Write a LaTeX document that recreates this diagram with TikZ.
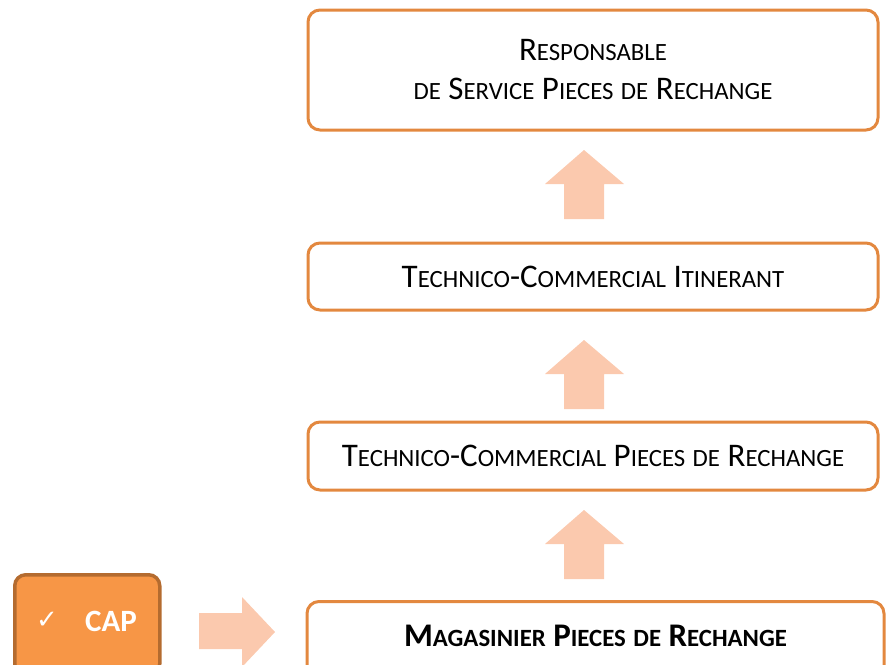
\documentclass[tikz,border=0pt]{standalone}
\usepackage{fontspec}
\setmainfont{Carlito}
\newfontfamily\symfont{DejaVu Sans}
\definecolor{boxline}{HTML}{E3883F}
\definecolor{arrowfill}{HTML}{FBC9AE}
\definecolor{capfill}{HTML}{F79646}
\definecolor{capline}{HTML}{B46B2F}
\newcommand\bigsz{\fontsize{33}{39}\selectfont}
\newcommand\smlsz{\fontsize{24.8}{39}\selectfont}
\newcommand\W[2]{{\bigsz #1}{\smlsz #2}}
\tikzset{
  rolebox/.style={draw=boxline, line width=3pt, rounded corners=12pt, fill=white,
    minimum width=570pt, align=center, inner sep=0pt, font=\bigsz},
  blockarrow/.style={fill=arrowfill, draw=none},
  capbox/.style={draw=capline, fill=capfill, line width=3.5pt, rounded corners=11pt,
    minimum width=145pt, minimum height=100pt, inner sep=0pt, text=white}
}
\begin{document}
\begin{tikzpicture}[x=1pt,y=-1pt]
\useasboundingbox (0,0) rectangle (886,664);
\clip (0,0) rectangle (886,664);
% boxes
\node[rolebox, minimum height=120pt] (resp) at (593,70)
  {\W{R}{ESPONSABLE}\\{\smlsz DE} \W{S}{ERVICE} \W{P}{IECES} {\smlsz DE} \W{R}{ECHANGE}};
\node[rolebox, minimum height=67pt] (itin) at (593,276.5)
  {\W{T}{ECHNICO}-\W{C}{OMMERCIAL} \W{I}{TINERANT}};
\node[rolebox, minimum height=68pt] (tcpr) at (593,456)
  {\W{T}{ECHNICO}-\W{C}{OMMERCIAL} \W{P}{IECES} {\smlsz DE} \W{R}{ECHANGE}};
\node[rolebox, minimum width=577pt, minimum height=80pt, anchor=north] (mag) at (595.5,600) {};
\node[font=\bfseries\bigsz] (magt) at (595.5,636) {\W{M}{AGASINIER} \W{P}{IECES} {\smlsz DE} \W{R}{ECHANGE}};
% CAP box
\node[capbox, anchor=north west] (cap) at (13,573) {};
\node[text=white, font=\symfont\fontsize{26}{30}\selectfont] (chk) at (47,620) {✓};
\node[text=white, font=\bfseries\fontsize{31}{36}\selectfont] (capt) at (111,621) {CAP};
% up arrows
\foreach \t in {150,340,510}{
  \fill[blockarrow] (584,\t) -- (624,\t+34) -- (604,\t+34) -- (604,\t+69)
    -- (564,\t+69) -- (564,\t+34) -- (545,\t+34) -- cycle;
}
% right arrow
\fill[blockarrow] (199,613) -- (242,613) -- (242,597) -- (275,632) -- (242,667)
  -- (242,649) -- (199,649) -- cycle;
\end{tikzpicture}
\end{document}
